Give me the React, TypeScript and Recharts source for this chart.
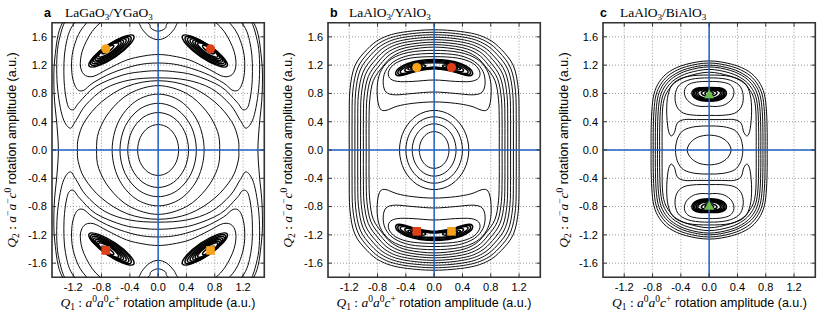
import React from 'react';
import {
  ComposedChart,
  Line,
  Scatter,
  XAxis,
  YAxis,
  CartesianGrid,
  ReferenceLine,
  ReferenceArea,
} from 'recharts';

type P = [number, number];
type Mark = { x: number; y: number; tone: 'orange' | 'red' | 'green'; shape: 'circle' | 'square' | 'triangle' };

const xTicks = [-1.2, -0.8, -0.4, 0, 0.4, 0.8, 1.2];
const yTicks = [-1.6, -1.2, -0.8, -0.4, 0, 0.4, 0.8, 1.2, 1.6];

// ---- a: LaGaO3/YGaO3 ----
// rings: first-quadrant arcs, traced from the Q2 axis round to the Q1 axis
const aRings: P[][] = [
  [[0, 0.36], [0.145, 0.312], [0.251, 0.18], [0.29, 0]],
  [[0, 0.53], [0.215, 0.459], [0.372, 0.265], [0.43, 0]],
  [[0, 0.66], [0.27, 0.572], [0.468, 0.33], [0.54, 0]],
  [[0, 0.79], [0.325, 0.684], [0.563, 0.395], [0.65, 0]],
  [[0, 0.91], [0.4, 0.8], [0.68, 0.55], [0.84, 0.26], [0.87, 0]],
  [[0, 0.98], [0.44, 0.9], [0.8, 0.68], [1.04, 0.4], [1.13, 0.16], [1.14, 0]],
  [[0, 2.2], [1.0, 2.05], [1.35, 1.8], [1.46, 1.3], [1.47, 0.8], [1.43, 0.35], [1.41, 0]],
];
// bands: right half of loops round the upper pair of wells, top crossing -> bottom crossing
const aBands: P[][] = [
  [[0, 1.56], [0.12, 1.6], [0.22, 1.7], [0.32, 1.84], [0.6, 1.92], [0.88, 1.74], [1.05, 1.46], [1.1, 1.22], [1.05, 1.07], [0.92, 1.04], [0.72, 1.14], [0.45, 1.27], [0.2, 1.33], [0, 1.35]],
  [[0, 1.68], [0.1, 1.72], [0.18, 1.82], [0.7, 2.02], [1.05, 1.75], [1.2, 1.42], [1.22, 1.1], [1.16, 0.88], [1.06, 0.84], [0.92, 0.95], [0.65, 1.09], [0.3, 1.2], [0, 1.23]],
  [[0, 1.95], [0.8, 2.08], [1.18, 1.8], [1.31, 1.45], [1.33, 1.0], [1.28, 0.64], [1.2, 0.57], [1.11, 0.68], [0.88, 0.9], [0.5, 1.06], [0.2, 1.11], [0, 1.12]],
  [[0, 2.0], [0.6, 2.12], [1.2, 1.95], [1.4, 1.55], [1.43, 1.0], [1.36, 0.5], [1.25, 0.31], [1.16, 0.42], [1.02, 0.64], [0.75, 0.87], [0.4, 0.99], [0, 1.02]],
];
const aCores: P[][] = [];
// wells: loops round the upper-right minimum
const aWell: P[][] = [
  [[0.345, 1.613], [0.478, 1.607], [0.716, 1.483], [0.92, 1.309], [0.975, 1.187], [0.842, 1.193], [0.604, 1.317], [0.4, 1.491]],
  [[0.385, 1.596], [0.5, 1.59], [0.718, 1.477], [0.905, 1.32], [0.952, 1.21], [0.832, 1.214], [0.617, 1.328], [0.43, 1.486]],
  [[0.418, 1.579], [0.526, 1.573], [0.72, 1.471], [0.887, 1.33], [0.932, 1.231], [0.824, 1.237], [0.63, 1.339], [0.464, 1.48]],
  [[0.455, 1.562], [0.55, 1.557], [0.722, 1.466], [0.87, 1.341], [0.91, 1.253], [0.815, 1.258], [0.642, 1.349], [0.495, 1.474]],
  [[0.491, 1.544], [0.575, 1.54], [0.725, 1.462], [0.854, 1.352], [0.889, 1.276], [0.805, 1.28], [0.655, 1.359], [0.527, 1.468]],
  [[0.525, 1.527], [0.597, 1.524], [0.725, 1.457], [0.835, 1.363], [0.865, 1.298], [0.793, 1.301], [0.665, 1.368], [0.555, 1.462]],
  [[0.559, 1.51], [0.619, 1.508], [0.725, 1.452], [0.816, 1.375], [0.841, 1.32], [0.781, 1.322], [0.675, 1.378], [0.584, 1.456]],
  [[0.627, 1.476], [0.663, 1.476], [0.726, 1.443], [0.779, 1.397], [0.793, 1.364], [0.757, 1.365], [0.694, 1.397], [0.641, 1.443]],
];
const aMarks: Mark[] = [
  { x: -0.74, y: 1.43, tone: 'orange', shape: 'circle' },
  { x: 0.74, y: 1.43, tone: 'red', shape: 'circle' },
  { x: -0.74, y: -1.42, tone: 'red', shape: 'square' },
  { x: 0.74, y: -1.42, tone: 'orange', shape: 'square' },
];

// ---- b: LaAlO3/YAlO3 ----
const bRings: P[][] = [
  [[0, 0.26], [0.105, 0.225], [0.182, 0.13], [0.21, 0]],
  [[0, 0.37], [0.155, 0.32], [0.268, 0.185], [0.31, 0]],
  [[0, 0.47], [0.2, 0.407], [0.346, 0.235], [0.4, 0]],
  [[0, 0.56], [0.245, 0.485], [0.424, 0.28], [0.49, 0]],
  [[0, 1.455], [0.37, 1.415], [0.585, 1.325], [0.73, 1.175], [0.86, 0.98], [0.91, 0.71], [0.92, 0.4], [0.92, 0]],
  [[0, 1.49], [0.385, 1.45], [0.61, 1.36], [0.76, 1.21], [0.895, 1.01], [0.95, 0.73], [0.96, 0.4], [0.96, 0]],
  [[0, 1.525], [0.4, 1.485], [0.635, 1.395], [0.79, 1.245], [0.93, 1.04], [0.99, 0.75], [1.0, 0.4], [1.0, 0]],
  [[0, 1.56], [0.42, 1.52], [0.66, 1.43], [0.825, 1.28], [0.97, 1.07], [1.03, 0.77], [1.04, 0.4], [1.04, 0]],
  [[0, 1.595], [0.43, 1.555], [0.685, 1.465], [0.855, 1.315], [1.005, 1.1], [1.07, 0.79], [1.08, 0.4], [1.08, 0]],
  [[0, 1.63], [0.45, 1.59], [0.71, 1.5], [0.89, 1.35], [1.045, 1.13], [1.11, 0.81], [1.12, 0.4], [1.12, 0]],
  [[0, 1.665], [0.46, 1.625], [0.735, 1.535], [0.92, 1.385], [1.08, 1.16], [1.15, 0.83], [1.16, 0.4], [1.16, 0]],
  [[0, 1.7], [0.48, 1.66], [0.76, 1.57], [0.95, 1.42], [1.12, 1.19], [1.19, 0.85], [1.2, 0.4], [1.2, 0]],
];
const bBands: P[][] = [
  [[0, 1.32], [0.33, 1.3], [0.54, 1.23], [0.64, 1.12], [0.63, 1.02], [0.52, 0.97], [0.3, 0.97], [0, 0.99]],
  [[0, 1.365], [0.34, 1.34], [0.57, 1.25], [0.69, 1.11], [0.72, 0.95], [0.68, 0.82], [0.55, 0.78], [0.3, 0.8], [0, 0.82]],
  [[0, 1.41], [0.36, 1.38], [0.6, 1.29], [0.74, 1.14], [0.8, 0.95], [0.8, 0.72], [0.76, 0.58], [0.68, 0.56], [0.52, 0.62], [0.3, 0.66], [0, 0.68]],
];
// crescent round both upper wells
const bCores: P[][] = [
  [[0, 1.28], [0.2, 1.265], [0.38, 1.22], [0.5, 1.155], [0.545, 1.09], [0.5, 1.05], [0.38, 1.075], [0.2, 1.125], [0, 1.15]],
  [[0, 1.265], [0.2, 1.25], [0.37, 1.208], [0.48, 1.148], [0.515, 1.095], [0.475, 1.065], [0.36, 1.088], [0.2, 1.133], [0, 1.157]],
  [[0, 1.25], [0.2, 1.235], [0.355, 1.196], [0.455, 1.14], [0.48, 1.1], [0.44, 1.08], [0.34, 1.1], [0.2, 1.14], [0, 1.165]],
  [[0, 1.235], [0.2, 1.225], [0.33, 1.19], [0.41, 1.14], [0.4, 1.11], [0.33, 1.11], [0.2, 1.145], [0, 1.175]],
];
const bWell: P[][] = [
  [[0.12, 1.195], [0.2, 1.205], [0.3, 1.19], [0.37, 1.15], [0.33, 1.13], [0.24, 1.14], [0.15, 1.165]],
  [[0.17, 1.185], [0.24, 1.19], [0.31, 1.175], [0.33, 1.155], [0.28, 1.15], [0.2, 1.16]],
];
const bMarks: Mark[] = [
  { x: -0.245, y: 1.165, tone: 'orange', shape: 'circle' },
  { x: 0.245, y: 1.165, tone: 'red', shape: 'circle' },
  { x: -0.245, y: -1.15, tone: 'red', shape: 'square' },
  { x: 0.245, y: -1.15, tone: 'orange', shape: 'square' },
];

// ---- c: LaAlO3/BiAlO3 ----
const cRings: P[][] = [
  [[0, 0.21], [0.15, 0.185], [0.26, 0.11], [0.31, 0]],
  [[0, 0.34], [0.2, 0.33], [0.36, 0.28], [0.44, 0.18], [0.47, 0.07], [0.475, 0]],
  [[0, 1.1], [0.28, 1.05], [0.46, 0.97], [0.56, 0.87], [0.63, 0.74], [0.66, 0.55], [0.665, 0.25], [0.665, 0]],
  [[0, 1.14], [0.29, 1.09], [0.48, 1.0], [0.59, 0.89], [0.66, 0.75], [0.69, 0.55], [0.7, 0.25], [0.7, 0]],
  [[0, 1.175], [0.3, 1.125], [0.5, 1.03], [0.62, 0.91], [0.69, 0.76], [0.72, 0.55], [0.73, 0.25], [0.73, 0]],
  [[0, 1.2], [0.31, 1.15], [0.52, 1.05], [0.645, 0.93], [0.72, 0.77], [0.75, 0.55], [0.76, 0.25], [0.76, 0]],
  [[0, 1.23], [0.32, 1.18], [0.54, 1.08], [0.67, 0.95], [0.75, 0.78], [0.78, 0.55], [0.79, 0.25], [0.79, 0]],
  [[0, 1.26], [0.33, 1.21], [0.56, 1.11], [0.7, 0.97], [0.78, 0.79], [0.81, 0.55], [0.82, 0.25], [0.82, 0]],
];
const cBands: P[][] = [
  [[0, 0.97], [0.18, 0.96], [0.3, 0.92], [0.35, 0.83], [0.32, 0.72], [0.22, 0.64], [0.1, 0.615], [0, 0.62]],
  [[0, 1.02], [0.25, 1.0], [0.42, 0.92], [0.48, 0.78], [0.46, 0.62], [0.36, 0.52], [0.18, 0.49], [0, 0.49]],
  [[0, 1.06], [0.3, 1.04], [0.5, 0.95], [0.58, 0.78], [0.6, 0.55], [0.58, 0.3], [0.54, 0.2], [0.49, 0.25], [0.45, 0.38], [0.35, 0.43], [0.18, 0.43], [0, 0.43]],
];
const cCores: P[][] = [
  [[0, 0.885], [0.14, 0.88], [0.22, 0.85], [0.245, 0.8], [0.21, 0.74], [0.12, 0.7], [0, 0.69]],
  [[0, 0.878], [0.13, 0.873], [0.205, 0.845], [0.225, 0.8], [0.192, 0.745], [0.11, 0.71], [0, 0.7]],
  [[0, 0.87], [0.12, 0.865], [0.19, 0.84], [0.205, 0.8], [0.175, 0.75], [0.1, 0.72], [0, 0.71]],
  [[0, 0.862], [0.105, 0.857], [0.17, 0.835], [0.183, 0.8], [0.155, 0.757], [0.09, 0.73], [0, 0.722]],
  [[0, 0.855], [0.09, 0.85], [0.15, 0.83], [0.16, 0.8], [0.135, 0.765], [0.08, 0.74], [0, 0.735]],
  [[0, 0.84], [0.06, 0.838], [0.1, 0.822], [0.11, 0.8], [0.09, 0.78], [0.05, 0.765], [0, 0.76]],
  [[0, 0.825], [0.03, 0.823], [0.055, 0.812], [0.06, 0.8], [0.05, 0.787], [0.03, 0.78], [0, 0.778]],
];
const cWell: P[][] = [];
const cMarks: Mark[] = [
  { x: 0, y: 0.79, tone: 'green', shape: 'triangle' },
  { x: 0, y: -0.79, tone: 'green', shape: 'triangle' },
];

const TONES = { orange: '#f7a21b', red: '#df3f17', green: '#69bd4c' };
const SANS = 'Liberation Sans, Arial, Helvetica, sans-serif';
const SERIF = 'Liberation Serif, DejaVu Serif, serif';

// mirror a first-quadrant arc into a closed loop
const quad = (q: P[]): P[] => [
  ...q,
  ...q.slice(0, -1).reverse().map(([x, y]) => [x, -y] as P),
  ...q.slice(1).map(([x, y]) => [-x, -y] as P),
  ...q.slice(1, -1).reverse().map(([x, y]) => [-x, y] as P),
];
const half = (h: P[]): P[] => [...h, ...h.slice(1, -1).reverse().map(([x, y]) => [-x, y] as P)];
const flip = (l: P[], sx: number, sy: number): P[] => l.map(([x, y]) => [x * sx, y * sy] as P);
const rows = (l: P[]) => l.map(([x, y]) => ({ x, y }));

// closed catmull-rom so the loops pass through the read points
const closedSmooth = (ctx: any) => {
  let pts: number[][] = [];
  return {
    areaStart() {},
    areaEnd() {},
    lineStart() {
      pts = [];
    },
    point(x: number, y: number) {
      pts.push([+x, +y]);
    },
    lineEnd() {
      const n = pts.length;
      if (n < 3) return;
      ctx.moveTo(pts[0][0], pts[0][1]);
      for (let i = 0; i < n; i += 1) {
        const p0 = pts[(i + n - 1) % n];
        const p1 = pts[i];
        const p2 = pts[(i + 1) % n];
        const p3 = pts[(i + 2) % n];
        ctx.bezierCurveTo(
          p1[0] + (p2[0] - p0[0]) / 6,
          p1[1] + (p2[1] - p0[1]) / 6,
          p2[0] - (p3[0] - p1[0]) / 6,
          p2[1] - (p3[1] - p1[1]) / 6,
          p2[0],
          p2[1],
        );
      }
      ctx.closePath();
    },
  };
};

const markShape = (m: Mark) => (props: any) => {
  const { cx, cy } = props;
  const fill = TONES[m.tone];
  if (m.shape === 'square') return <rect x={cx - 4.3} y={cy - 4.3} width={8.6} height={8.6} fill={fill} />;
  if (m.shape === 'triangle')
    return <polygon points={`${cx},${cy - 5} ${cx - 5},${cy + 4} ${cx + 5},${cy + 4}`} fill={fill} />;
  return <circle cx={cx} cy={cy} r={4.6} fill={fill} />;
};

type PanelDef = {
  plotLeft: number;
  rings: P[][];
  bands: P[][];
  cores: P[][];
  well: P[][];
  marks: Mark[];
};

const panels: PanelDef[] = [
  { plotLeft: 51.7, rings: aRings, bands: aBands, cores: aCores, well: aWell, marks: aMarks },
  { plotLeft: 327.7, rings: bRings, bands: bBands, cores: bCores, well: bWell, marks: bMarks },
  { plotLeft: 603.3, rings: cRings, bands: cBands, cores: cCores, well: cWell, marks: cMarks },
];

const tickStyle = { fontSize: 11, fill: '#000', fontFamily: SANS };
const fmt = (v: number) => v.toFixed(1);
const TL = 0.055;

const mirrorBand = (h: P[]) => {
  const f = half(h);
  return [f, flip(f, 1, -1)];
};

function Panel({ p }: { p: PanelDef }) {
  const thin: P[][] = [...p.rings.map(quad), ...p.bands.flatMap(mirrorBand)];
  const dense: P[][] = [
    ...p.cores.flatMap(mirrorBand),
    ...p.well.flatMap((w) => [w, flip(w, -1, 1), flip(w, 1, -1), flip(w, -1, -1)]),
  ];
  const loops = [...thin.map((l) => ({ l, w: 0.95 })), ...dense.map((l) => ({ l, w: 1.5 }))];
  return (
    <div style={{ position: 'absolute', left: p.plotLeft - 40, top: 0 }}>
      <ComposedChart width={260} height={316} margin={{ top: 22.7, right: 7.7, bottom: 13.7, left: 10 }}>
        <CartesianGrid stroke="#999" strokeDasharray="1 2" />
        <XAxis
          type="number"
          dataKey="x"
          domain={[-1.5, 1.5]}
          ticks={xTicks}
          interval={0}
          allowDataOverflow
          tickFormatter={fmt}
          tick={tickStyle}
          tickLine={false}
          axisLine={false}
          tickSize={3}
          tickMargin={2.5}
          height={25}
        />
        <YAxis
          type="number"
          dataKey="y"
          domain={[-1.8, 1.8]}
          ticks={yTicks}
          interval={0}
          allowDataOverflow
          tickFormatter={fmt}
          tick={tickStyle}
          tickLine={false}
          axisLine={false}
          tickSize={3}
          tickMargin={2}
          width={30}
        />
        {loops.map((d, i) => (
          <Line
            key={i}
            data={rows(d.l)}
            dataKey="y"
            type={closedSmooth as any}
            stroke="#000"
            strokeWidth={d.w}
            dot={false}
            activeDot={false}
            isAnimationActive={false}
          />
        ))}
        <ReferenceLine x={0} stroke="#1f63c6" strokeWidth={1.5} />
        <ReferenceLine y={0} stroke="#1f63c6" strokeWidth={1.5} />
        {p.marks.map((m, i) => (
          <Scatter key={'m' + i} data={[{ x: m.x, y: m.y }]} shape={markShape(m)} isAnimationActive={false} />
        ))}
        {xTicks.map((t) => (
          <ReferenceLine key={'b' + t} segment={[{ x: t, y: -1.8 }, { x: t, y: -1.8 + TL }]} stroke="#333" />
        ))}
        {xTicks.map((t) => (
          <ReferenceLine key={'t' + t} segment={[{ x: t, y: 1.8 }, { x: t, y: 1.8 - TL }]} stroke="#333" />
        ))}
        {yTicks.map((t) => (
          <ReferenceLine key={'l' + t} segment={[{ x: -1.5, y: t }, { x: -1.5 + TL, y: t }]} stroke="#333" />
        ))}
        {yTicks.map((t) => (
          <ReferenceLine key={'r' + t} segment={[{ x: 1.5, y: t }, { x: 1.5 - TL, y: t }]} stroke="#333" />
        ))}
        <ReferenceArea x1={-1.5} x2={1.5} y1={-1.8} y2={1.8} fill="none" stroke="#333" strokeWidth={1.6} />
      </ComposedChart>
    </div>
  );
}

const titles = [
  { letter: 'a', lx: 44, tx: 65, parts: ['LaGaO', '3', '/YGaO', '3'] },
  { letter: 'b', lx: 330, tx: 349, parts: ['LaAlO', '3', '/YAlO', '3'] },
  { letter: 'c', lx: 600, tx: 620, parts: ['LaAlO', '3', '/BiAlO', '3'] },
];

const NB = '\u00a0';

function XLabel({ cx }: { cx: number }) {
  return (
    <text x={cx} y={306.5} textAnchor="middle" fontSize={12.5} fontFamily={SANS}>
      <tspan fontFamily={SERIF} fontStyle="italic" fontSize={13.5}>Q</tspan>
      <tspan fontFamily={SERIF} fontSize={9.5} dy={3}>1</tspan>
      <tspan fontFamily={SERIF} fontSize={13.5} dy={-3}>{NB + ':' + NB}</tspan>
      <tspan fontFamily={SERIF} fontStyle="italic" fontSize={13.5}>a</tspan>
      <tspan fontFamily={SERIF} fontSize={9.5} dy={-5}>0</tspan>
      <tspan fontFamily={SERIF} fontStyle="italic" fontSize={13.5} dy={5}>a</tspan>
      <tspan fontFamily={SERIF} fontSize={9.5} dy={-5}>0</tspan>
      <tspan fontFamily={SERIF} fontStyle="italic" fontSize={13.5} dy={5}>c</tspan>
      <tspan fontFamily={SERIF} fontSize={9.5} dy={-5}>+</tspan>
      <tspan dy={5}>{NB + 'rotation amplitude (a.u.)'}</tspan>
    </text>
  );
}

function YLabel({ bx }: { bx: number }) {
  return (
    <text transform={`translate(${bx},150) rotate(-90)`} textAnchor="middle" fontSize={12.5} fontFamily={SANS}>
      <tspan fontFamily={SERIF} fontStyle="italic" fontSize={13.5}>Q</tspan>
      <tspan fontFamily={SERIF} fontSize={9.5} dy={3}>2</tspan>
      <tspan fontFamily={SERIF} fontSize={13.5} dy={-3}>{NB + ':' + NB}</tspan>
      <tspan fontFamily={SERIF} fontStyle="italic" fontSize={13.5}>a</tspan>
      <tspan fontFamily={SERIF} fontSize={9.5} dy={-5}>{'\u2212'}</tspan>
      <tspan fontFamily={SERIF} fontStyle="italic" fontSize={13.5} dy={5}>a</tspan>
      <tspan fontFamily={SERIF} fontSize={9.5} dy={-5}>{'\u2212'}</tspan>
      <tspan fontFamily={SERIF} fontStyle="italic" fontSize={13.5} dy={5}>c</tspan>
      <tspan fontFamily={SERIF} fontSize={9.5} dy={-5}>0</tspan>
      <tspan dy={5}>{NB + 'rotation amplitude (a.u.)'}</tspan>
    </text>
  );
}

export default function App() {
  return (
    <div style={{ position: 'absolute', left: 0, top: 0, width: 822, height: 316, background: '#fff', fontFamily: SANS }}>
      {panels.map((p, i) => (
        <Panel key={i} p={p} />
      ))}
      <svg width={822} height={316} style={{ position: 'absolute', left: 0, top: 0, pointerEvents: 'none' }}>
        {titles.map((t) => (
          <g key={t.letter}>
            <text x={t.lx} y={16.5} fontSize={12.5} fontWeight="bold" fontFamily={SANS}>
              {t.letter}
            </text>
            <text x={t.tx} y={16.5} fontSize={13.5} fontFamily={SERIF}>
              <tspan>{t.parts[0]}</tspan>
              <tspan fontSize={9} dy={3}>{t.parts[1]}</tspan>
              <tspan dy={-3}>{t.parts[2]}</tspan>
              <tspan fontSize={9} dy={3}>{t.parts[3]}</tspan>
            </text>
          </g>
        ))}
        {panels.map((p, i) => (
          <XLabel key={'x' + i} cx={p.plotLeft + 106.2} />
        ))}
        {panels.map((p, i) => (
          <YLabel key={'y' + i} bx={p.plotLeft - 35.7} />
        ))}
      </svg>
    </div>
  );
}
